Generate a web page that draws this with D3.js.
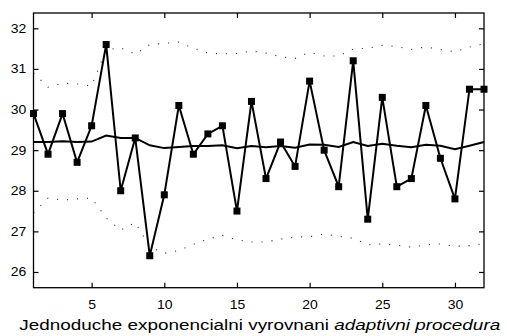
<!DOCTYPE html>
<html>
<head>
<meta charset="utf-8">
<script src="https://cdn.jsdelivr.net/npm/d3@7"></script>
<style>
  html, body { margin: 0; padding: 0; background: #fff; }
  svg { display: block; font-family: "Liberation Sans", Arial, Helvetica, sans-serif; }
</style>
</head>
<body>
<svg id="chart" width="507" height="336"></svg>
<script>
// Observed series (time index 1..32)
const periods = d3.range(1, 33);
const observed = [29.9, 28.9, 29.9, 28.7, 29.6, 31.6, 28.0, 29.3, 26.4, 27.9,
                  30.1, 28.9, 29.4, 29.6, 27.5, 30.2, 28.3, 29.2, 28.6, 30.7,
                  29.0, 28.1, 31.2, 27.3, 30.3, 28.1, 28.3, 30.1, 28.8, 27.8,
                  30.5, 30.5];
// Adaptive exponential smoothing
const smoothed = [29.20, 29.20, 29.22, 29.20, 29.21, 29.36, 29.30, 29.30, 29.12, 29.05,
                  29.08, 29.10, 29.10, 29.12, 29.05, 29.10, 29.07, 29.10, 29.06, 29.14,
                  29.13, 29.08, 29.20, 29.10, 29.16, 29.11, 29.07, 29.13, 29.11, 29.02,
                  29.11, 29.20];
// Upper and lower bounds
const upperBound = [30.90, 30.55, 30.65, 30.63, 30.58, 31.47, 31.52, 31.36, 31.60, 31.63,
                    31.66, 31.51, 31.39, 31.37, 31.38, 31.44, 31.39, 31.30, 31.26, 31.41,
                    31.32, 31.32, 31.49, 31.51, 31.58, 31.55, 31.48, 31.54, 31.48, 31.42,
                    31.54, 31.62];
const lowerBound = [27.45, 27.82, 27.77, 27.80, 27.82, 27.33, 27.03, 27.22, 26.62, 26.46,
                    26.53, 26.68, 26.81, 26.90, 26.79, 26.74, 26.74, 26.81, 26.86, 26.87,
                    26.93, 26.88, 26.83, 26.67, 26.69, 26.66, 26.61, 26.67, 26.69, 26.63,
                    26.65, 26.70];
const xTicks = [5, 10, 15, 20, 25, 30];
const yTicks = [26, 27, 28, 29, 30, 31, 32];
const xTitle = "Jednoduche exponencialni vyrovnani ";
const xTitleItalic = "adaptivni procedura";

const svg = d3.select("#chart");
const plotLeft = 33.5, plotRight = 484, plotTop = 13, plotBottom = 287.7;

const x = d3.scaleLinear().domain([1, 32]).range([plotLeft, plotRight]);
const y = d3.scaleLinear().domain([25.613, 32.377]).range([plotBottom, plotTop]);

const line = (vals) => d3.line().x((d, i) => x(periods[i])).y(d => y(d))(vals);

// Bounds (dotted)
[upperBound, lowerBound].forEach(b => {
  svg.append("path")
    .attr("d", line(b))
    .attr("fill", "none")
    .attr("stroke", "#333")
    .attr("stroke-width", 1.1)
    .attr("stroke-dasharray", "1.1 8.9");
});

// Smoothed line
svg.append("path")
  .attr("d", line(smoothed))
  .attr("fill", "none")
  .attr("stroke", "#000")
  .attr("stroke-width", 2);

// Observed line with square markers
svg.append("path")
  .attr("d", line(observed))
  .attr("fill", "none")
  .attr("stroke", "#000")
  .attr("stroke-width", 2)
  .attr("stroke-linejoin", "miter");

const sq = 7;
svg.selectAll("rect.pt")
  .data(observed)
  .enter().append("rect")
  .attr("class", "pt")
  .attr("x", (d, i) => x(periods[i]) - sq / 2)
  .attr("y", d => y(d) - sq / 2)
  .attr("width", sq)
  .attr("height", sq)
  .attr("fill", "#000");

// Axes: box with inward ticks on all four sides
const tickLen = 5;
const axisStyle = g => {
  g.select(".domain").remove();
  g.selectAll(".tick line").attr("stroke", "#000").attr("stroke-width", 1.2);
  g.selectAll(".tick text").attr("fill", "#000")
    .attr("font-size", 12.5)
    .attr("transform", "scale(1.12,1)")
    .attr("font-family", "'Liberation Sans', Arial, Helvetica, sans-serif");
};

svg.append("g")
  .attr("transform", `translate(0,${plotBottom})`)
  .call(d3.axisBottom(x).tickValues(xTicks).tickSizeInner(-tickLen).tickSizeOuter(0).tickPadding(12.5).tickFormat(d3.format("d")))
  .call(axisStyle);

svg.append("g")
  .attr("transform", `translate(0,${plotTop})`)
  .call(d3.axisTop(x).tickValues(xTicks).tickSizeInner(-tickLen).tickSizeOuter(0).tickFormat(""))
  .call(axisStyle);

svg.append("g")
  .attr("transform", `translate(${plotLeft},0)`)
  .call(d3.axisLeft(y).tickValues(yTicks).tickSizeInner(-tickLen).tickSizeOuter(0).tickPadding(6.4).tickFormat(d3.format("d")))
  .call(axisStyle);

svg.append("g")
  .attr("transform", `translate(${plotRight},0)`)
  .call(d3.axisRight(y).tickValues(yTicks).tickSizeInner(-tickLen).tickSizeOuter(0).tickFormat(""))
  .call(axisStyle);

// Plot frame
svg.append("rect")
  .attr("x", plotLeft).attr("y", plotTop)
  .attr("width", plotRight - plotLeft).attr("height", plotBottom - plotTop)
  .attr("fill", "none").attr("stroke", "#000").attr("stroke-width", 1.3);

// Axis title
const title = svg.append("text")
  .attr("transform", `translate(${(plotLeft + plotRight) / 2 + 1},330) scale(1.22,1)`)
  .attr("text-anchor", "middle")
  .attr("font-size", 15.5)
  .attr("fill", "#000");
title.append("tspan").text(xTitle);
title.append("tspan").attr("font-style", "italic").text(xTitleItalic);
</script>
</body>
</html>
